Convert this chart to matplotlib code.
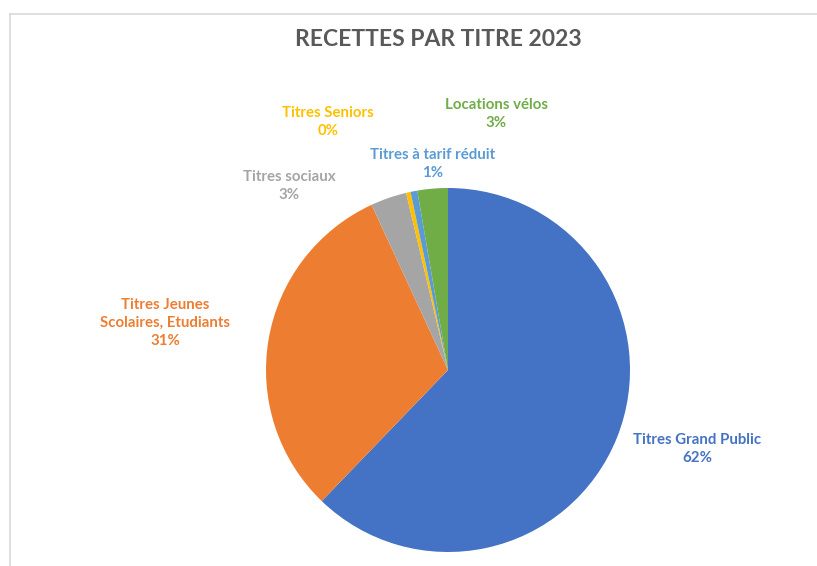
import matplotlib.pyplot as plt
from matplotlib.lines import Line2D

# slices, clockwise from 12 o'clock
categories = ['Titres Grand Public', 'Titres Jeunes\nScolaires, Etudiants', 'Titres sociaux',
              'Titres Seniors', 'Titres à tarif réduit', 'Locations vélos']
shares = [62.2, 30.9, 3.2, 0.4, 0.6, 2.7]
pct_labels = ['62%', '31%', '3%', '0%', '1%', '3%']
colors = ['#4472C4', '#ED7D31', '#A5A5A5', '#FFC000', '#5B9BD5', '#70AD47']

# label centres in pixels of the 817x566 picture (x from left, y from top)
label_px = [(697, 449), (165, 323), (289, 186), (328, 122), (433, 164), (496, 114)]

W, H = 817, 566
cx, cy, r = 448, 370, 182

fig = plt.figure(figsize=(W / 100, H / 100), dpi=100)
ax = fig.add_axes([0, 0, 1, 1])
ax.pie(shares, colors=colors, startangle=90, counterclock=False, radius=1,
       wedgeprops=dict(linewidth=0))
ax.set_xlim(-cx / r, (W - cx) / r)
ax.set_ylim((cy - H) / r, cy / r)
ax.set_aspect('equal')
ax.axis('off')

def to_data(px, py):
    return (px - cx) / r, (cy - py) / r

for cat, pct, col, (px, py) in zip(categories, pct_labels, colors, label_px):
    x, y = to_data(px, py)
    ax.text(x, y, cat + '\n' + pct, color=col, ha='center', va='center',
            fontsize=10.8, fontweight='bold', family='Lato', linespacing=1.4)

x, y = to_data(438, 40)
ax.text(x, y, 'RECETTES PAR TITRE 2023', color='#595959', ha='center', va='center',
        fontsize=16.5, fontweight='bold', family='Lato')

# chart frame
fig.add_artist(Line2D([9.5 / W, 9.5 / W], [0, 1 - 14 / H], color='#D9D9D9', lw=1.2))
fig.add_artist(Line2D([9.5 / W, 1], [1 - 14 / H, 1 - 14 / H], color='#D9D9D9', lw=1.2))

fig.savefig('out.png', dpi=100)
